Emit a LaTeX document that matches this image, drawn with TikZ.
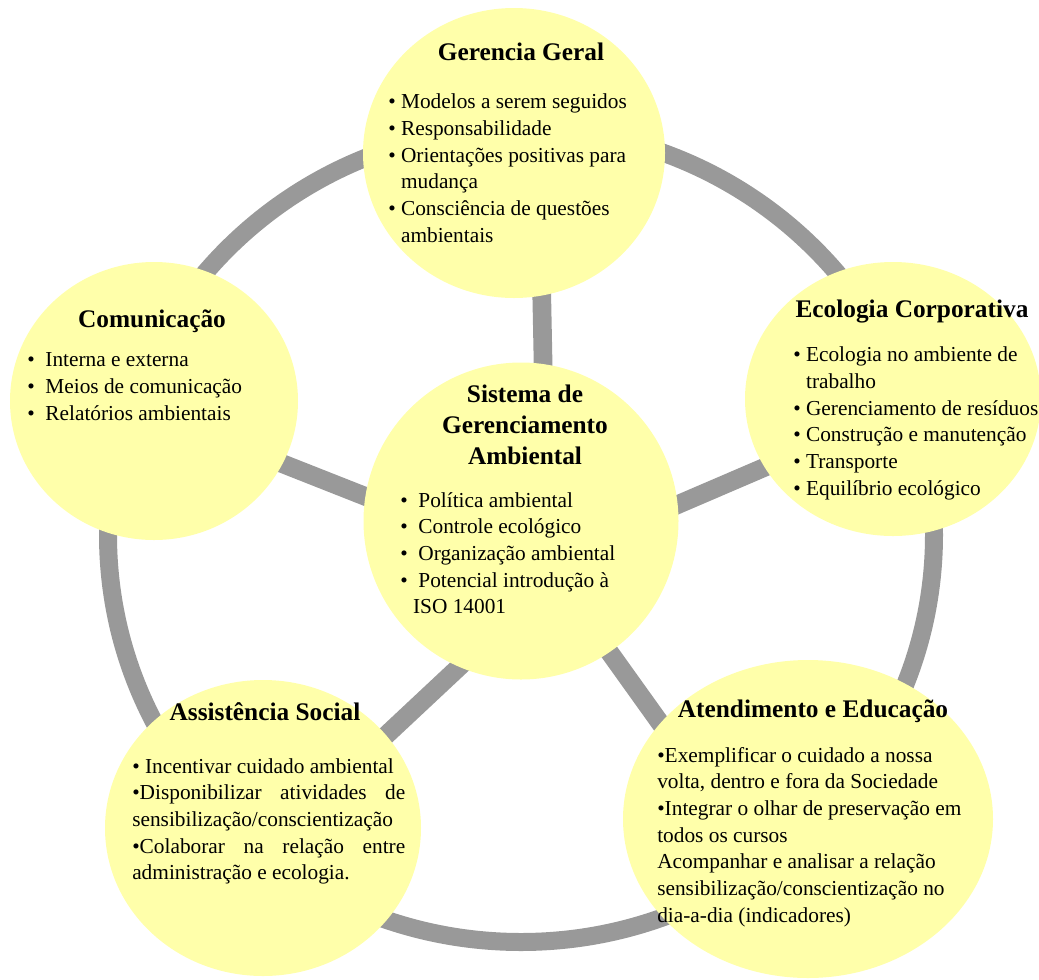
\documentclass[tikz,border=0pt]{standalone}
\usepackage{fontspec}
\setmainfont{Liberation Serif}
\usetikzlibrary{shapes.geometric,backgrounds}

\definecolor{bubbleyellow}{RGB}{255,255,170}
\definecolor{ringgray}{RGB}{153,153,153}

\tikzset{
  bubble/.style={ellipse, fill=bubbleyellow, inner sep=0pt},
  title/.style={font=\fontsize{19}{23}\selectfont\bfseries, anchor=base, align=center, inner sep=0pt},
  items/.style={font=\fontsize{16}{20}\selectfont, anchor=base west, align=left, inner sep=0pt},
  spoke/.style={draw=ringgray, line width=14pt, shorten <=-8pt, shorten >=-8pt}
}
\newcommand{\ind}{\phantom{\textbullet\ }}
\newcommand{\jline}[1]{\makebox[204.75pt][s]{#1}}

\begin{document}
\begin{tikzpicture}[x=0.75pt,y=-0.75pt]
\useasboundingbox (0,0) rectangle (1039,979);

% Bubbles
\node[bubble, minimum width=226.5pt, minimum height=217.5pt] (ger) at (514,153) {};
\node[bubble, minimum width=222pt, minimum height=205.5pt] (eco) at (893,399) {};
\node[bubble, minimum width=216pt, minimum height=208.5pt] (com) at (154,401) {};
\node[bubble, minimum width=236.25pt, minimum height=237.75pt] (sga) at (521,521) {};
\node[bubble, minimum width=237pt, minimum height=222pt] (ass) at (263,828) {};
\node[bubble, minimum width=277.5pt, minimum height=238.5pt] (ate) at (808,819) {};

% Ring and spokes behind the bubbles
\begin{scope}[on background layer]
\draw[draw=ringgray, line width=13.5pt] (521,535) ellipse [x radius=309.75pt, y radius=305.25pt];
\draw[spoke] (sga.82) -- (ger.-79);
\draw[spoke] (sga.171) -- (com.-26);
\draw[spoke] (sga.6.5) -- (eco.208);
\draw[spoke] (sga.247) -- (ass.37);
\draw[spoke] (sga.-56) -- (ate.147);
\end{scope}

% Texts (base = baseline of the last line)
% Gerencia Geral
\node[title] (gerT) at (521,60) {Gerencia Geral};
\node[items] (gerL) at (388,242.3) {\textbullet\ Modelos a serem seguidos\\
  \textbullet\ Responsabilidade\\
  \textbullet\ Orientações positivas para\\
  \ind mudança\\
  \textbullet\ Consciência de questões\\
  \ind ambientais};

% Ecologia Corporativa
\node[title] (ecoT) at (912,317) {Ecologia Corporativa};
\node[items] (ecoL) at (793,495.3) {\textbullet\ Ecologia no ambiente de\\
  \ind trabalho\\
  \textbullet\ Gerenciamento de resíduos\\
  \textbullet\ Construção e manutenção\\
  \textbullet\ Transporte\\
  \textbullet\ Equilíbrio ecológico};

% Comunicacao
\node[title] (comT) at (152,327) {Comunicação};
\node[items] (comL) at (27,420.3) {\textbullet\ \ Interna e externa\\
  \textbullet\ \ Meios de comunicação\\
  \textbullet\ \ Relatórios ambientais};

% Sistema de Gerenciamento Ambiental
\node[title] (sgaT) at (525,464.3) {Sistema de\\Gerenciamento\\Ambiental};
\node[items] (sgaL) at (400,613.7) {\textbullet\ \ Política ambiental\\
  \textbullet\ \ Controle ecológico\\
  \textbullet\ \ Organização ambiental\\
  \textbullet\ \ Potencial introdução à\\
  \ind ISO 14001};

% Assistencia Social
\node[title] (assT) at (265,720) {Assistência Social};
\node[items] (assL) at (132,879.7) {\textbullet\ Incentivar cuidado ambiental\\
  \jline{\textbullet Disponibilizar atividades de}\\
  sensibilização/conscientização\\
  \jline{\textbullet Colaborar na relação entre}\\
  administração e ecologia.};

% Atendimento e Educacao
\node[title] (ateT) at (813,717) {Atendimento e Educação};
\node[items] (ateL) at (657,922) {\textbullet Exemplificar o cuidado a nossa\\
  volta, dentro e fora da Sociedade\\
  \textbullet Integrar o olhar de preservação em\\
  todos os cursos\\
  Acompanhar e analisar a relação\\
  sensibilização/conscientização no\\
  dia-a-dia (indicadores)};
\end{tikzpicture}
\end{document}
